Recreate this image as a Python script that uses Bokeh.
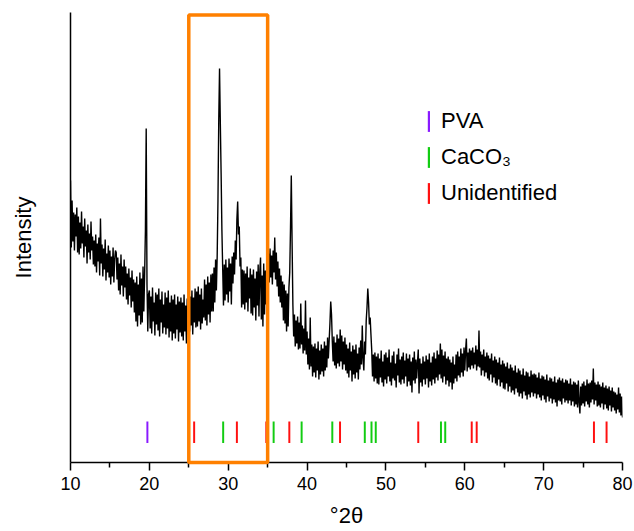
import numpy as np
from bokeh.plotting import figure
from bokeh.models import Range1d, FixedTicker, Legend, LegendItem
from bokeh.embed import file_html
from bokeh.resources import INLINE

# ---- data (intensity in arbitrary units) ----
intensity = [
    282, 215, 262, 221, 250, 212, 248, 226, 255, 210,   # 10
    246, 208, 240, 214, 251, 219, 236, 205, 244, 216,   # 11
    232, 199, 238, 210, 229, 203, 241, 212, 226, 198,   # 12
    222, 196, 228, 190, 219, 201, 225, 187, 244, 199,   # 13
    218, 186, 214, 193, 223, 182, 209, 190, 217, 185,   # 14
    212, 178, 206, 186, 215, 180, 203, 212, 210, 183,   # 15
    205, 172, 199, 168, 208, 177, 196, 166, 203, 175,   # 16
    196, 163, 189, 158, 194, 167, 185, 155, 192, 161,   # 17
    183, 150, 180, 141, 186, 136, 178, 147, 190, 138,   # 18
    184, 140, 196, 151, 188, 232, 334, 178, 131, 168,   # 19
    172, 134, 166, 129, 175, 141, 160, 127, 170, 138,   # 20
    168, 132, 174, 126, 163, 140, 171, 129, 158, 135,   # 21
    170, 128, 165, 134, 172, 125, 160, 131, 167, 122,   # 22
    163, 129, 168, 124, 158, 133, 166, 121, 161, 130,   # 23
    165, 126, 160, 122, 168, 131, 157, 119, 164, 128,   # 24
    178, 131, 166, 137, 172, 128, 165, 140, 174, 135,   # 25
    171, 136, 176, 141, 168, 133, 174, 139, 163, 145,   # 26
    183, 142, 178, 137, 186, 148, 180, 140, 188, 151,   # 27
    189, 151, 195, 160, 203, 172, 206, 262, 342, 394,   # 28
    339, 289, 232, 194, 157, 198, 162, 203, 168, 195,   # 29
    160, 204, 171, 199, 158, 206, 179, 210, 188, 222,   # 30
    203, 243, 261, 228, 236, 196, 205, 155, 193, 158,   # 31
    192, 153, 189, 160, 196, 151, 185, 164, 194, 149,   # 32
    188, 147, 193, 155, 184, 142, 191, 157, 198, 146,   # 33
    190, 205, 143, 187, 136, 199, 148, 192, 158, 201,   # 34
    172, 209, 180, 214, 185, 207, 178, 212, 190, 225,   # 35
    183, 210, 176, 201, 166, 194, 160, 187, 155, 181,   # 36
    142, 178, 139, 172, 131, 169, 136, 175, 190, 235,   # 37
    287, 220, 158, 126, 148, 116, 142, 119, 146, 113,   # 38
    140, 114, 159, 118, 137, 109, 134, 112, 162, 108,   # 39
    131, 98, 124, 93, 145, 96, 118, 86, 116, 90,        # 40
    119, 85, 114, 92, 121, 83, 112, 88, 118, 91,        # 41
    114, 86, 121, 92, 117, 95, 125, 104, 122, 139,      # 42
    161, 148, 121, 101, 126, 97, 120, 94, 128, 99,      # 43
    124, 96, 133, 101, 127, 93, 121, 98, 125, 92,       # 44
    118, 89, 114, 85, 120, 92, 111, 81, 117, 88,        # 45
    113, 84, 118, 90, 109, 83, 115, 93, 122, 98,        # 46
    137, 104, 92, 121, 108, 142, 155, 174, 160, 138,    # 47
    145, 128, 112, 86, 108, 81, 110, 84, 106, 79,       # 48
    109, 78, 104, 85, 112, 80, 101, 76, 108, 83,        # 49
    110, 79, 105, 86, 113, 81, 100, 77, 107, 84,        # 50
    111, 82, 99, 75, 108, 87, 114, 80, 103, 78,         # 51
    106, 83, 110, 79, 102, 86, 109, 76, 104, 81,        # 52
    108, 77, 101, 70, 105, 82, 111, 79, 103, 84,        # 53
    100, 113, 69, 104, 80, 99, 76, 106, 83, 101,        # 54
    78, 107, 84, 103, 75, 109, 81, 100, 77, 106,        # 55
    83, 110, 79, 104, 85, 112, 82, 108, 88, 119,        # 56
    84, 113, 80, 107, 86, 111, 78, 104, 82, 106,        # 57
    76, 103, 80, 100, 73, 106, 79, 98, 84, 108,         # 58
    81, 111, 87, 106, 85, 114, 90, 109, 86, 115,        # 59
    92, 112, 124, 91, 110, 95, 114, 93, 112, 97,        # 60
    115, 94, 110, 98, 117, 92, 113, 96, 132, 95,        # 61
    111, 87, 108, 92, 113, 86, 106, 90, 110, 84,        # 62
    107, 82, 104, 88, 109, 80, 102, 85, 106, 79,        # 63
    103, 77, 100, 83, 105, 76, 98, 80, 102, 74,         # 64
    99, 73, 96, 79, 100, 71, 94, 76, 98, 70,            # 65
    95, 72, 92, 68, 97, 74, 90, 70, 94, 66,             # 66
    92, 69, 88, 64, 94, 71, 87, 67, 91, 63,             # 67
    90, 68, 86, 65, 92, 70, 88, 66, 89, 69,             # 68
    88, 64, 85, 68, 90, 65, 84, 62, 87, 67,             # 69
    86, 63, 83, 60, 88, 66, 82, 61, 85, 64,             # 70
    84, 59, 81, 63, 86, 60, 80, 56, 83, 62,             # 71
    85, 61, 82, 58, 84, 64, 80, 60, 83, 62,             # 72
    82, 59, 79, 62, 84, 57, 78, 61, 81, 56,             # 73
    80, 58, 78, 55, 82, 60, 49, 76, 57, 79,             # 74
    59, 81, 56, 77, 61, 83, 58, 79, 55, 80,             # 75
    60, 82, 63, 94, 58, 80, 62, 78, 56, 81,             # 76
    57, 78, 55, 76, 59, 80, 53, 75, 58, 77,             # 77
    54, 74, 52, 76, 57, 72, 51, 75, 55, 71,             # 78
    52, 70, 49, 68, 53, 75, 50, 69, 47, 66,             # 79
    45,                                                 # 80
]
two_theta = np.linspace(10.0, 80.0, len(intensity))

pva_pos = [19.75]
caco3_pos = [29.36, 35.76, 39.31, 43.2, 47.32, 48.17, 48.71, 56.98, 57.52]
unid_pos = [25.68, 31.1, 34.83, 37.75, 44.18, 54.1, 60.88, 61.51, 76.38, 77.98]
highlight_range = [25.0, 35.0]

x_ticks = [10, 20, 30, 40, 50, 60, 70, 80]
x_minor = [15, 25, 35, 45, 55, 65, 75]

FONT = "Liberation Sans"
Y_TOP = 450
STICK_BOTTOM, STICK_TOP = 19.5, 41

p = figure(width=634, height=531, output_backend="svg", toolbar_location=None,
           x_range=Range1d(10, 80), y_range=Range1d(0, Y_TOP),
           min_border_left=70, min_border_right=12, min_border_top=12, min_border_bottom=69)
p.outline_line_color = None
p.xgrid.visible = False
p.ygrid.visible = False
p.background_fill_color = "white"
p.border_fill_color = "white"

# trace
p.line(two_theta, intensity, line_color="black", line_width=1.4)

# reference sticks
r_pva = p.vbar(x=pva_pos, bottom=STICK_BOTTOM, top=STICK_TOP, width=0.25,
               fill_color="#8a1aff", line_color=None)
r_cc = p.vbar(x=caco3_pos, bottom=STICK_BOTTOM, top=STICK_TOP, width=0.25,
              fill_color="#12cc12", line_color=None)
r_un = p.vbar(x=unid_pos, bottom=STICK_BOTTOM, top=STICK_TOP, width=0.25,
              fill_color="#ff1010", line_color=None)

# highlight box
box = p.quad(left=[highlight_range[0]], right=[highlight_range[1]], bottom=[0], top=[Y_TOP - 2.5],
             fill_color=None, line_color="#ff8000", line_width=3.5)
box.level = "overlay"

legend = Legend(items=[LegendItem(label="PVA", renderers=[r_pva]),
                       LegendItem(label="CaCO₃", renderers=[r_cc]),
                       LegendItem(label="Unidentified", renderers=[r_un])],
                location=(357, 256), orientation="vertical",
                glyph_width=3, glyph_height=26, label_height=26, spacing=10,
                label_standoff=11, padding=0, margin=0,
                border_line_color=None, background_fill_alpha=0,
                label_text_font=FONT, label_text_font_size="22px", label_text_color="black")
p.add_layout(legend)

# axes
xa = p.xaxis[0]
xa.ticker = FixedTicker(ticks=x_ticks, minor_ticks=x_minor)
xa.axis_label = "°2θ"
xa.axis_label_text_font = FONT
xa.axis_label_text_font_size = "22px"
xa.axis_label_text_font_style = "normal"
xa.axis_label_standoff = 10
xa.major_label_text_font = FONT
xa.major_label_text_font_size = "18px"
xa.major_label_standoff = 6
xa.major_tick_out = 8
xa.major_tick_in = 0
xa.minor_tick_out = 5
xa.minor_tick_in = 0
xa.axis_line_width = 1.5
xa.major_tick_line_width = 1.5
xa.minor_tick_line_width = 1.5
xa.axis_line_color = "black"
xa.major_tick_line_color = "black"
xa.minor_tick_line_color = "black"
xa.major_label_text_color = "black"
xa.axis_label_text_color = "black"

ya = p.yaxis[0]
ya.ticker = FixedTicker(ticks=[])
ya.axis_label = "Intensity"
ya.axis_label_text_font = FONT
ya.axis_label_text_font_size = "22px"
ya.axis_label_text_font_style = "normal"
ya.axis_label_text_color = "black"
ya.axis_label_standoff = 35
ya.major_tick_out = 0
ya.minor_tick_out = 0
ya.axis_line_width = 1.5
ya.axis_line_color = "black"

open("out.html", "w").write(file_html(p, INLINE))
